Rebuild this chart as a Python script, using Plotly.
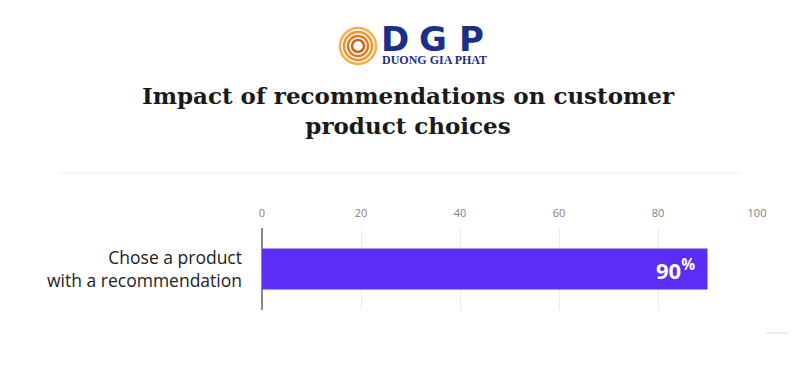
import plotly.graph_objects as go

categories = ["Chose a product<br>with a recommendation"]
values = [90]
value_labels = ["90<sup>%</sup>"]
x_ticks = [0, 20, 40, 60, 80, 100]

W, H = 800, 379
OFF = 8  # page body margin
L, R, T, B = 254, 51, 220, 77
pw, ph = W - L - R, H - T - B

def px(xs):
    return (xs - OFF - L) / pw

def py(ys):
    return (H - B - (ys - OFF)) / ph

fig = go.Figure()
fig.add_trace(go.Bar(
    x=values, y=categories, orientation="h",
    marker=dict(color="#5c2df5", line=dict(width=0)),
    width=0.5,
    hoverinfo="skip",
))

shapes = [
    dict(type="line", xref="paper", yref="paper", x0=px(60), x1=px(740), y0=py(173), y1=py(173),
         line=dict(color="#ececec", width=1)),
    dict(type="line", xref="paper", yref="paper", x0=px(2), x1=px(2), y0=py(62), y1=py(333),
         line=dict(color="#f0f0f0", width=1.5)),
    dict(type="line", xref="paper", yref="paper", x0=px(766), x1=px(789), y0=py(333), y1=py(333),
         line=dict(color="#dddddd", width=1)),
]
# logo swirl
cx, cy = 358, 46
for r, col in [(18, "#f5b04a"), (14, "#ec952e"), (10, "#dd7d22"), (6, "#c9651a")]:
    shapes.append(dict(type="circle", xref="paper", yref="paper",
                       x0=px(cx - r), x1=px(cx + r), y0=py(cy + r), y1=py(cy - r),
                       line=dict(color=col, width=2.5)))

annotations = []
for letter, xc in [("D", 395), ("G", 433), ("P", 471)]:
    annotations.append(dict(text=letter, xref="paper", yref="paper", x=px(xc), y=py(39),
                            xanchor="center", yanchor="middle", showarrow=False,
                            font=dict(family="DejaVu Sans", size=34, color="#1c2e8c", weight="bold")))
annotations.append(dict(text="DUONG GIA PHAT", xref="paper", yref="paper", x=px(380), y=py(59.5),
                        xanchor="left", yanchor="middle", showarrow=False,
                        font=dict(family="Liberation Serif", size=12, color="#1c2e8c", weight="bold")))
for v, c, t in zip(values, categories, value_labels):
    annotations.append(dict(text=t, x=v, y=c, xref="x", yref="y", xanchor="right", yanchor="middle",
                            xshift=-11, showarrow=False,
                            font=dict(family="Open Sans", size=22, color="white", weight="bold")))

fig.update_layout(
    width=W, height=H,
    margin=dict(l=L, r=R, t=T, b=B),
    paper_bgcolor="white", plot_bgcolor="white",
    showlegend=False,
    title=dict(text="Impact of recommendations on customer<br>product choices",
               x=0.5, xanchor="center", xref="container",
               y=1 - (104 - OFF) / H, yanchor="middle", yref="container",
               font=dict(family="DejaVu Serif", size=23, color="#1a1a1a", weight="bold")),
    xaxis=dict(range=[0, 100], side="top", tickvals=x_ticks, ticktext=[str(t) for t in x_ticks],
               showgrid=True, gridcolor="#ebebeb", gridwidth=1,
               zeroline=True, zerolinecolor="#8a8a8a", zerolinewidth=1.5,
               showline=False, ticks="", ticklabelstandoff=8,
               tickfont=dict(family="Open Sans", size=11, color="#808080"), fixedrange=True),
    yaxis=dict(showgrid=False, zeroline=False, showline=False, ticks="",
               ticklabelstandoff=19, range=[-0.5, 0.5],
               tickfont=dict(family="Open Sans", size=17.5, color="#222222"), fixedrange=True),
    shapes=shapes, annotations=annotations,
    bargap=0.5,
)

fig.write_html("out.html")
